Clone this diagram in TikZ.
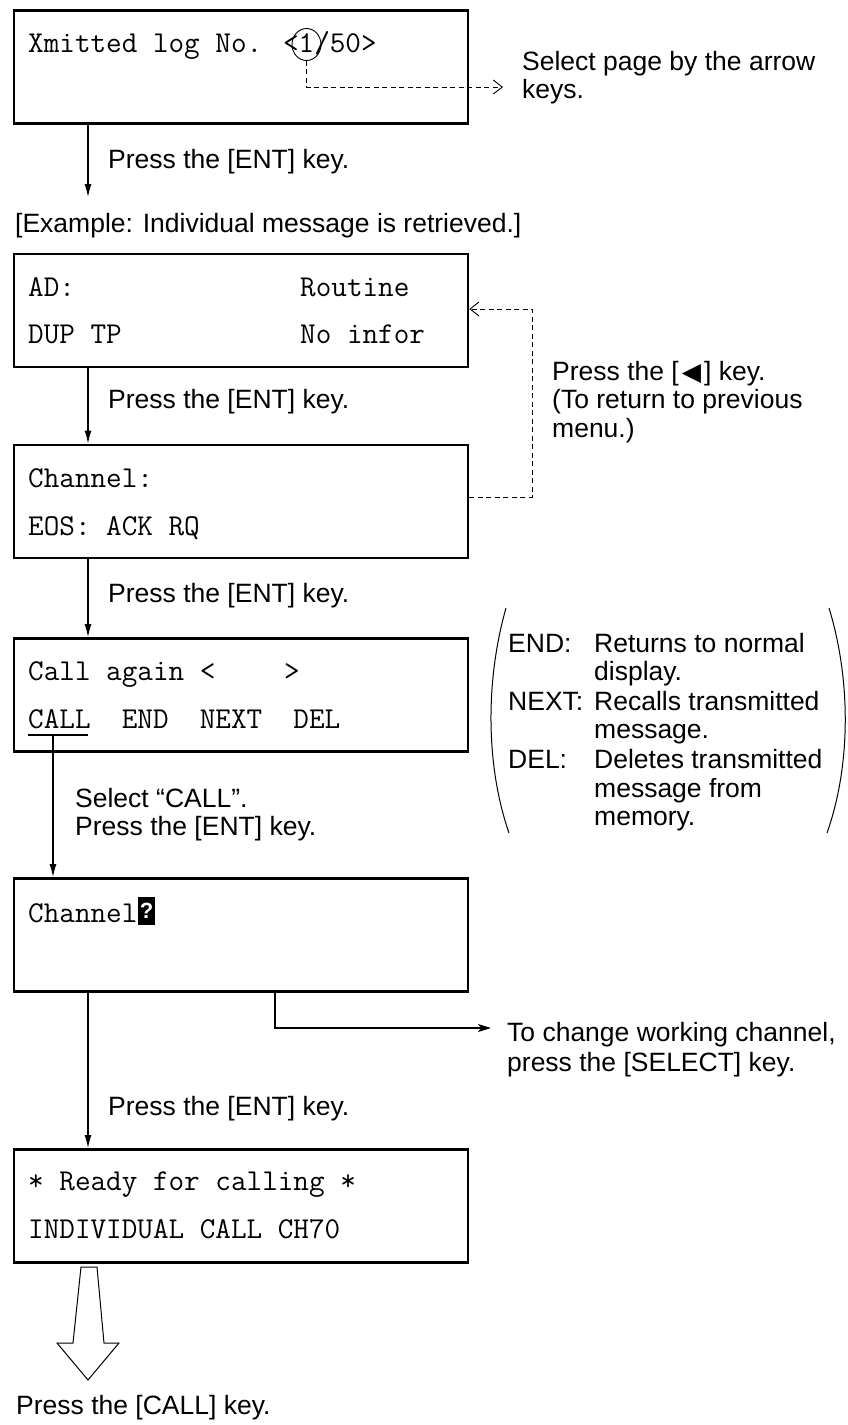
\documentclass[tikz,border=0pt]{standalone}
\usepackage{fontspec}
\setmainfont{Liberation Sans}
\newfontfamily\symfont{DejaVu Sans}
\usetikzlibrary{arrows.meta,shapes.geometric}
\tikzset{
  lcd/.style={draw, line width=2.6pt, minimum width=454pt, minimum height=113pt, anchor=north west, inner sep=0pt},
  mono/.style={anchor=base west, inner sep=0pt, font=\fontsize{30.3}{32}\selectfont\ttfamily},
  lbl/.style={anchor=base west, inner sep=0pt, font=\fontsize{26.5}{29}\selectfont},
  conn/.style={line width=1.1pt, -{Latex[length=13pt,width=7pt]}},
  sideconn/.style={line width=1.1pt, -{Stealth[length=13pt,width=8pt,inset=3pt]}},
  dashconn/.style={line width=0.9pt, dash pattern=on 5pt off 3.5pt, -{Straight Barb[length=9pt,width=14pt,line width=0.9pt]}},
  paren/.style={line width=1pt},
}
\begin{document}
\begin{tikzpicture}[x=1pt,y=-1pt]
\useasboundingbox[fill=white] (0,0) rectangle (848,1425);

% ---- boxes ----
\node[lcd] (b1) at (12.7,9) {};
\node[lcd] (b2) at (12.7,252.5) {};
\node[lcd] (b3) at (12.7,443.5) {};
\node[lcd] (b4) at (12.7,637) {};
\node[lcd] (b5) at (12.7,877) {};
\node[lcd] (b6) at (12.7,1148) {};

% ---- box texts ----
\node[mono] (t1) at (28,52) {Xmitted log No. <1/50>};
\node[mono] (t2a) at (28,296) {AD:};
\node[mono] (t2b) at (300,296) {Routine};
\node[mono] (t2c) at (28,343) {DUP TP};
\node[mono] (t2d) at (300,343) {No infor};
\node[mono] (t3a) at (28,487) {Channel:};
\node[mono] (t3b) at (28,535) {EOS: ACK RQ};
\node[mono] (t4a) at (28,680) {Call again <};
\node[mono] (t4b) at (284,680) {>};
\node[mono] (t4c) at (28,728) {CALL~~END~~NEXT~~DEL};
\node[mono] (t5) at (28,922) {Channel};
\node[fill=black, text=white, inner sep=0pt, minimum width=17pt, minimum height=28pt, font=\fontsize{22}{22}\selectfont\bfseries] (q5) at (146.5,911) {?};
\node[mono] (t6a) at (28,1190) {* Ready for calling *};
\node[mono] (t6b) at (28,1238) {INDIVIDUAL CALL CH70};

% circle around the page number
\node[draw, ellipse, line width=0.9pt, minimum width=29pt, minimum height=32pt, inner sep=0pt] (circ) at (306.5,44.5) {};

% ---- left labels ----
\node[lbl] (l1) at (108,168) {Press the [ENT] key.};
\node[lbl] (l2) at (15,232) {[Example: Individual message is retrieved.]};
\node[lbl] (l3) at (108,408) {Press the [ENT] key.};
\node[lbl] (l4) at (108,602) {Press the [ENT] key.};
\node[lbl] (l5a) at (75,807) {Select “CALL”.};
\node[lbl] (l5b) at (75,835) {Press the [ENT] key.};
\node[lbl] (l6) at (108,1115) {Press the [ENT] key.};
\node[lbl] (l7) at (16,1414) {Press the [CALL] key.};

% ---- right labels ----
\node[lbl] (r1a) at (522,70) {Select page by the arrow};
\node[lbl] (r1b) at (522,98) {keys.};
\node[lbl] (r2a) at (552,380) {Press the [\hspace{3pt}{\symfont\fontsize{25}{25}\selectfont ◀}\hspace{3pt}] key.};
\node[lbl] (r2b) at (552,408) {(To return to previous};
\node[lbl] (r2c) at (552,437) {menu.)};
\node[lbl] (r3a) at (507,1041) {To change working channel,};
\node[lbl] (r3b) at (507,1071) {press the [SELECT] key.};

% ---- bracketed legend ----
\node[lbl] (k1) at (508,652) {END:};
\node[lbl] (d1a) at (594,652) {Returns to normal};
\node[lbl] (d1b) at (594,680) {display.};
\node[lbl] (k2) at (508,710) {NEXT:};
\node[lbl] (d2a) at (594,710) {Recalls transmitted};
\node[lbl] (d2b) at (594,738) {message.};
\node[lbl] (k3) at (508,768) {DEL:};
\node[lbl] (d3a) at (594,768) {Deletes transmitted};
\node[lbl] (d3b) at (594,797) {message from};
\node[lbl] (d3c) at (594,825) {memory.};
\draw[paren] (506,608) .. controls (485.5,680) and (485.5,765) .. (509,833);
\draw[paren] (829,608) .. controls (851,680) and (851,765) .. (827,833);

% ---- connectors ----
\draw[conn] (88,0 |- b1.south) -- (88,197);
\draw[conn] (88,0 |- b2.south) -- (88,0 |- b3.north);
\draw[conn] (88,0 |- b3.south) -- (88,0 |- b4.north);
\coordinate (ul) at (53,735);
\draw[line width=1.1pt] (28,735) -- (88,735);
\draw[conn] (ul) -- (53,0 |- b5.north);
\draw[conn] (88,0 |- b5.south) -- (88,0 |- b6.north);
\draw[sideconn] (275,0 |- b5.south) -- (275,1028) -- (491,1028);

% dashed connectors
\draw[dashconn] (circ.south) -- (306.5,87) -- (503,87);
\draw[dashconn] (b3.east |- 0,497) -- (532,497) -- (532,309) -- (b2.east |- 0,309);

% ---- hollow arrow ----
\draw[line width=1pt, line join=miter] (81,1267) -- (97,1267) -- (104,1343) -- (119,1343) -- (88,1380) -- (57,1343) -- (73,1343) -- cycle;
\end{tikzpicture}
\end{document}
